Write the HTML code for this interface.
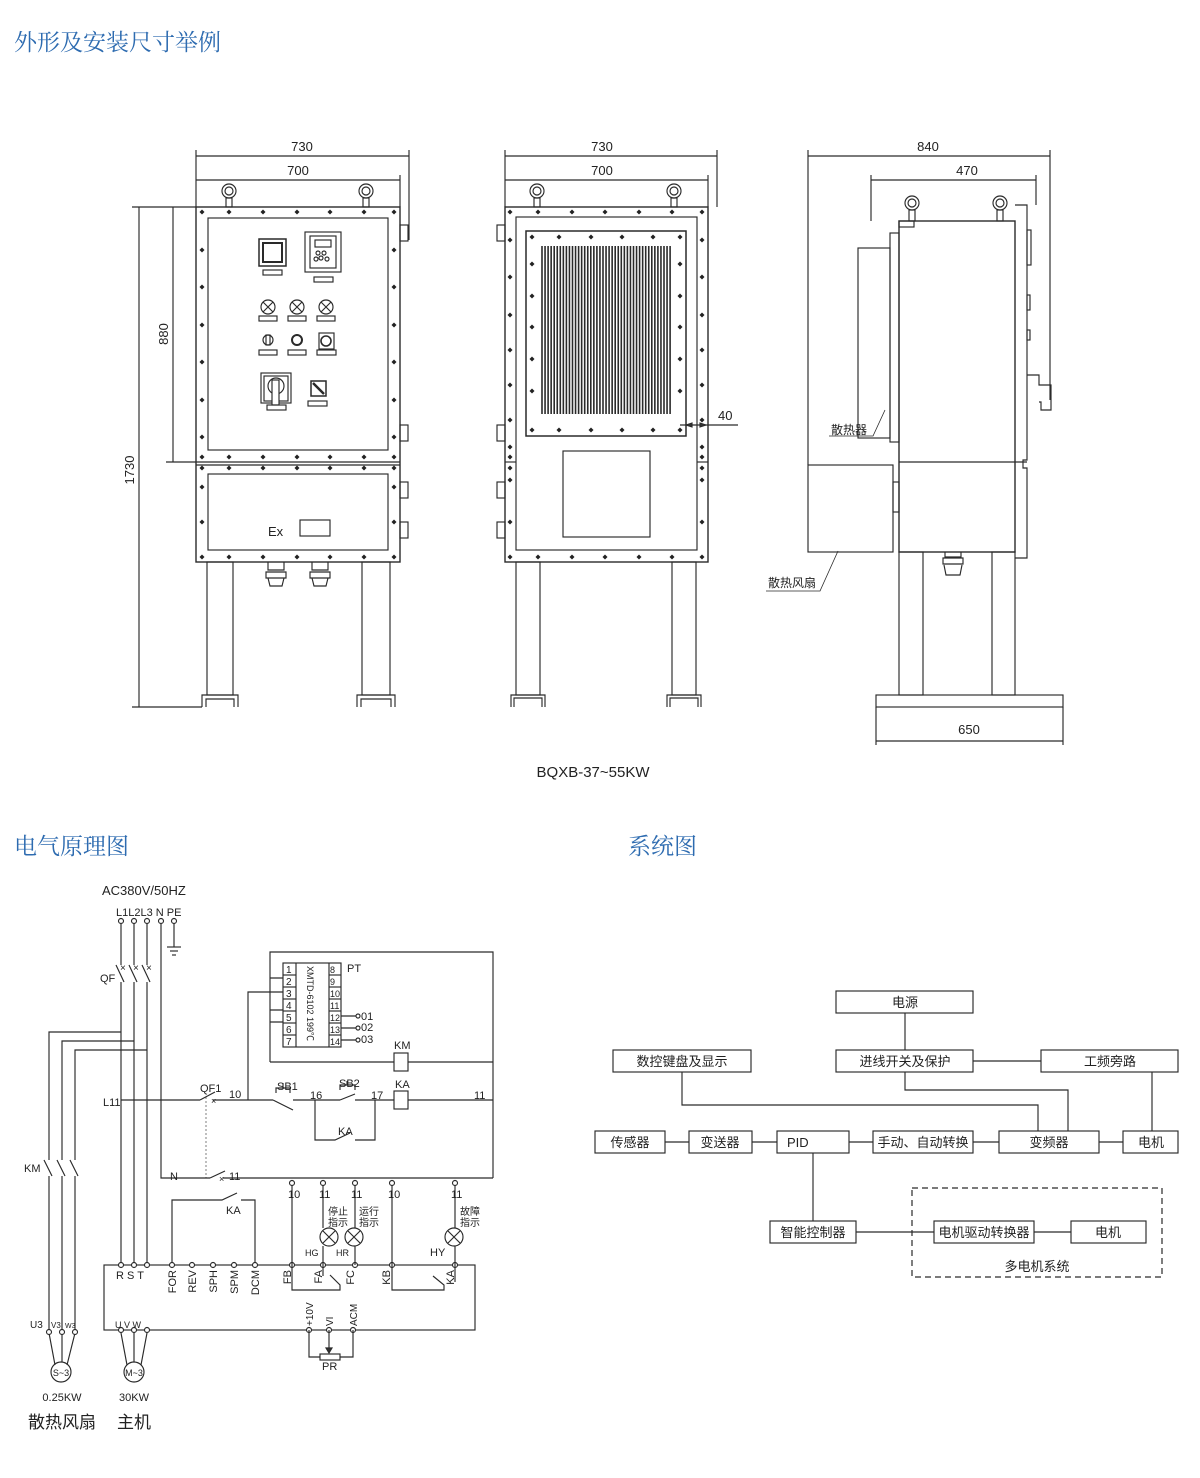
<!DOCTYPE html>
<html><head><meta charset="utf-8">
<style>
html,body{margin:0;padding:0;background:#fff;width:1200px;height:1478px;overflow:hidden}
svg{display:block}
text{font-family:"Liberation Sans","Noto Sans CJK SC",sans-serif;fill:#222}
.h{font-family:"Liberation Serif","Noto Serif CJK SC",serif;fill:#2d6bb0;font-size:23px}
.cn{font-family:"Liberation Sans","Noto Sans CJK SC",sans-serif}
</style></head><body>
<svg id="s" width="1200" height="1478" viewBox="0 0 1200 1478" xmlns="http://www.w3.org/2000/svg" fill="none" stroke="#2a2a2a" stroke-width="1.15">
<text class="h" x="14" y="50" stroke="none">外形及安装尺寸举例</text>
<text class="h" x="14" y="854" stroke="none">电气原理图</text>
<text class="h" x="628" y="854" stroke="none">系统图</text>

<!-- FRONT VIEW 1 -->
<g>
<line x1="196" y1="150" x2="196" y2="207"/><line x1="409" y1="150" x2="409" y2="240"/><line x1="400" y1="175" x2="400" y2="207"/>
<line x1="196" y1="156" x2="409" y2="156"/><line x1="196" y1="180" x2="400" y2="180"/>
<text x="302" y="151" font-size="13" stroke="none" text-anchor="middle">730</text>
<text x="298" y="175" font-size="13" stroke="none" text-anchor="middle">700</text>
<line x1="132" y1="207" x2="196" y2="207"/><line x1="132" y1="707" x2="202" y2="707"/><line x1="166" y1="462" x2="196" y2="462"/>
<line x1="139" y1="207" x2="139" y2="707"/><line x1="173" y1="207" x2="173" y2="462"/>
<text x="0" y="0" font-size="13" stroke="none" transform="translate(134,470) rotate(-90)" text-anchor="middle">1730</text>
<text x="0" y="0" font-size="13" stroke="none" transform="translate(168,334) rotate(-90)" text-anchor="middle">880</text>
<circle cx="229" cy="191" r="7"/><circle cx="229" cy="191" r="4"/><rect x="226" y="198" width="6" height="9"/>
<circle cx="366" cy="191" r="7"/><circle cx="366" cy="191" r="4"/><rect x="363" y="198" width="6" height="9"/>
<rect x="196" y="207" width="204" height="355" stroke-width="1.4"/>
<line x1="196" y1="462" x2="400" y2="462"/><line x1="196" y1="465" x2="400" y2="465"/>
<rect x="208" y="218" width="180" height="232"/>
<rect x="208" y="474" width="180" height="76"/>
<rect x="400" y="225" width="8" height="16"/><rect x="400" y="425" width="8" height="16"/><rect x="400" y="482" width="8" height="16"/><rect x="400" y="522" width="8" height="16"/>
<rect x="259" y="239" width="27" height="27" stroke-width="1.5"/><rect x="263" y="243" width="19" height="19" stroke-width="2"/>
<rect x="263" y="270" width="19" height="5"/>
<rect x="305" y="232" width="36" height="40"/><rect x="310" y="236" width="26" height="32"/><rect x="315" y="240" width="16" height="7"/>
<circle cx="318" cy="253" r="2"/><circle cx="324" cy="253" r="2"/><circle cx="321" cy="258" r="2"/><circle cx="316" cy="259" r="2"/><circle cx="327" cy="259" r="2"/>
<rect x="314" y="277" width="19" height="5"/>
<g id="lamps"></g>
<rect x="261" y="373" width="30" height="30"/><rect x="264" y="376" width="24" height="25"/><circle cx="276" cy="386" r="8"/><rect x="272" y="380" width="7" height="25" fill="#fff"/>
<rect x="267" y="405" width="19" height="5"/>
<rect x="311" y="381" width="15" height="15" stroke-width="1.5"/><line x1="313" y1="383" x2="324" y2="394" stroke-width="2.5"/>
<rect x="308" y="401" width="19" height="5"/>
<text x="268" y="536" font-size="13" stroke="none">Ex</text>
<rect x="300" y="520" width="30" height="16"/>
<rect x="207" y="562" width="26" height="133"/><rect x="362" y="562" width="28" height="133"/>
<path d="M202 707V695H238V707M206 707V699H234V707"/><path d="M357 707V695H395V707M361 707V699H391V707"/>
<path d="M268 562v8h16v-8M266 572h20v6h-20zM268 578l2 8h12l2-8"/>
<path d="M312 562v8h16v-8M310 572h20v6h-20zM312 578l2 8h12l2-8"/>
</g>

<!-- FRONT VIEW 2 -->
<g>
<line x1="505" y1="150" x2="505" y2="207"/><line x1="717" y1="150" x2="717" y2="207"/><line x1="708" y1="175" x2="708" y2="207"/>
<line x1="505" y1="156" x2="717" y2="156"/><line x1="505" y1="180" x2="708" y2="180"/>
<text x="602" y="151" font-size="13" stroke="none" text-anchor="middle">730</text>
<text x="602" y="175" font-size="13" stroke="none" text-anchor="middle">700</text>
<circle cx="537" cy="191" r="7"/><circle cx="537" cy="191" r="4"/><rect x="534" y="198" width="6" height="9"/>
<circle cx="674" cy="191" r="7"/><circle cx="674" cy="191" r="4"/><rect x="671" y="198" width="6" height="9"/>
<rect x="505" y="207" width="203" height="355" stroke-width="1.4"/>
<line x1="505" y1="462" x2="516" y2="462"/><line x1="697" y1="462" x2="708" y2="462"/>
<rect x="516" y="217" width="181" height="333"/>
<rect x="526" y="231" width="160" height="205" stroke-width="1.5"/>
<g id="grille"></g>
<rect x="563" y="451" width="87" height="86"/>
<rect x="497" y="225" width="8" height="16"/><rect x="497" y="425" width="8" height="16"/><rect x="497" y="482" width="8" height="16"/><rect x="497" y="522" width="8" height="16"/>
<line x1="680" y1="425" x2="738" y2="425"/>
<path d="M686 425l6-2v4z M706 425l-6-2v4z" fill="#333"/>
<text x="718" y="420" font-size="13" stroke="none">40</text>
<rect x="516" y="562" width="24" height="133"/><rect x="672" y="562" width="24" height="133"/>
<path d="M511 707V695H545V707M514 707V698H542V707"/><path d="M667 707V695H701V707M670 707V698H698V707"/>
</g>

<!-- SIDE VIEW -->
<g>
<line x1="808" y1="150" x2="808" y2="465"/><line x1="1050" y1="150" x2="1050" y2="400"/>
<line x1="871" y1="175" x2="871" y2="221"/><line x1="1036" y1="175" x2="1036" y2="205"/>
<line x1="808" y1="156" x2="1050" y2="156"/><line x1="871" y1="180" x2="1036" y2="180"/>
<text x="928" y="151" font-size="13" stroke="none" text-anchor="middle">840</text>
<text x="967" y="175" font-size="13" stroke="none" text-anchor="middle">470</text>
<circle cx="912" cy="203" r="7"/><circle cx="912" cy="203" r="4"/><rect x="909" y="210" width="6" height="11"/>
<circle cx="1000" cy="203" r="7"/><circle cx="1000" cy="203" r="4"/><rect x="997" y="210" width="6" height="11"/>
<rect x="899" y="221" width="116" height="331" stroke-width="1.4"/>
<line x1="899" y1="462" x2="1027" y2="462"/>
<rect x="899" y="221" width="15" height="6"/>
<path d="M1015 205h12v255h-4v8h4v90h-12"/>
<rect x="1027" y="230" width="4" height="35"/><rect x="1027" y="295" width="3" height="15"/><rect x="1027" y="330" width="3" height="10"/>
<path d="M1027 375h12v10h12v25h-10v-8h-2"/>
<rect x="890" y="233" width="9" height="209"/>
<rect x="858" y="248" width="32" height="190"/>
<rect x="808" y="465" width="85" height="87"/>
<rect x="893" y="482" width="6" height="30"/>
<rect x="899" y="552" width="24" height="143"/><rect x="992" y="552" width="23" height="143"/>
<path d="M945 552v5h16v-5M943 558h20v6h-20zM944 565l2 10h14l2-10"/>
<rect x="876" y="695" width="187" height="12"/>
<line x1="876" y1="707" x2="876" y2="745"/><line x1="1063" y1="707" x2="1063" y2="745"/>
<line x1="876" y1="741" x2="1063" y2="741"/>
<text x="969" y="734" font-size="13" stroke="none" text-anchor="middle">650</text>
<path d="M829 436h44l12-26" stroke-width=".8"/>
<text x="831" y="434" font-size="12" stroke="none" class="cn">散热器</text>
<path d="M766 591h54l18-40" stroke-width=".8"/>
<text x="768" y="587" font-size="12" stroke="none" class="cn">散热风扇</text>
</g>
<text x="593" y="777" font-size="15" stroke="none" text-anchor="middle">BQXB-37~55KW</text>

<!-- SCHEMATIC -->
<g font-size="11">
<text x="102" y="895" font-size="13" stroke="none">AC380V/50HZ</text>
<text x="116" y="916" stroke="none">L1L2L3 N PE</text>
<g id="term"></g>
<line x1="174" y1="924" x2="174" y2="947"/><line x1="167" y1="947" x2="181" y2="947"/><line x1="170" y1="951" x2="178" y2="951"/><line x1="172" y1="955" x2="176" y2="955"/>
<path d="M121 924V965M116 965L124 982M121 982V1265"/>
<path d="M134 924V965M129 965L137 982M134 982V1265"/>
<path d="M147 924V965M142 965L150 982M147 982V1265"/>
<text x="120" y="971" stroke="none" font-size="10">×</text><text x="133" y="971" stroke="none" font-size="10">×</text><text x="146" y="971" stroke="none" font-size="10">×</text>
<text x="100" y="982" stroke="none">QF</text>
<path d="M161 924V1178H210"/>
<path d="M121 1032H49V1160M44 1160L52 1176M49 1176V1330"/>
<path d="M134 1041H62V1160M57 1160L65 1176M62 1176V1330"/>
<path d="M147 1050H75V1160M70 1160L78 1176M75 1176V1330"/>
<text x="24" y="1172" stroke="none">KM</text>
<text x="30" y="1328" stroke="none" font-size="10">U3</text><text x="51" y="1328" stroke="none" font-size="8">V3</text><text x="65" y="1328" stroke="none" font-size="7">W3</text>
<path d="M49 1333L55 1365M62 1333V1362M75 1333L67 1365"/>
<circle cx="61" cy="1372" r="10"/><text x="61" y="1376" stroke="none" font-size="9" text-anchor="middle">S~3</text>
<path d="M121 1333L127 1365M134 1333V1362M147 1333L141 1365"/>
<circle cx="134" cy="1372" r="10"/><text x="134" y="1376" stroke="none" font-size="9" text-anchor="middle">M~3</text>
<text x="62" y="1401" stroke="none" text-anchor="middle">0.25KW</text>
<text x="134" y="1401" stroke="none" text-anchor="middle">30KW</text>
<text x="62" y="1428" stroke="none" font-size="17" text-anchor="middle" class="cn">散热风扇</text>
<text x="134" y="1428" stroke="none" font-size="17" text-anchor="middle" class="cn">主机</text>
<text x="103" y="1106" stroke="none">L11</text>
<path d="M121 1100H200M200 1100L215 1092M213 1100H248M248 1100V992H283"/>
<text x="211" y="1104" stroke="none" font-size="9">×</text>
<path d="M210 1178L225 1171M223 1178H493"/>
<text x="219" y="1182" stroke="none" font-size="9">×</text>
<line x1="206" y1="1097" x2="206" y2="1178" stroke-dasharray="2 2" stroke-width=".6"/>
<text x="200" y="1092" stroke="none">QF1</text>
<text x="229" y="1098" stroke="none">10</text>
<text x="170" y="1180" stroke="none">N</text>
<text x="229" y="1180" stroke="none">11</text>
<path d="M248 1100H273M273 1100L293 1110M293 1100H340M340 1100L355 1094M355 1100H394M408 1100H493"/>
<path d="M276 1093V1088H290V1093M283 1088V1083"/>
<text x="277" y="1090" stroke="none">SB1</text>
<text x="310" y="1099" stroke="none">16</text>
<path d="M340 1090V1085H355V1090M347 1085V1081"/>
<text x="339" y="1087" stroke="none">SB2</text>
<text x="371" y="1099" stroke="none">17</text>
<rect x="394" y="1091" width="14" height="18"/>
<text x="395" y="1088" stroke="none">KA</text>
<text x="474" y="1099" stroke="none">11</text>
<path d="M315 1100V1140H335L350 1133M355 1140H375V1100"/>
<text x="338" y="1135" stroke="none">KA</text>
<path d="M270 1062V952H493V1178"/>
<path d="M270 978H283M270 1010H283M270 1022H283"/>
<path d="M270 1062H394M408 1062H493"/>
<rect x="394" y="1053" width="14" height="18"/>
<text x="394" y="1049" stroke="none">KM</text>
<rect x="283" y="963" width="58" height="84"/>
<line x1="296" y1="963" x2="296" y2="1047"/><line x1="329" y1="963" x2="329" y2="1047"/>
<g id="pt"></g>
<text x="0" y="0" stroke="none" font-size="9" transform="translate(307,966) rotate(90)">XMTD-6102 199℃</text>
<text x="347" y="972" stroke="none">PT</text>
<path d="M341 1016H356M341 1028H356M341 1040H356"/>
<circle cx="358" cy="1016" r="2"/><circle cx="358" cy="1028" r="2"/><circle cx="358" cy="1040" r="2"/>
<text x="361" y="1020" stroke="none">01</text><text x="361" y="1031" stroke="none">02</text><text x="361" y="1043" stroke="none">03</text>
<rect x="104" y="1265" width="371" height="65"/>
<path d="M172 1265V1200H222L237 1193M241 1200H255V1265"/>
<text x="226" y="1214" stroke="none">KA</text>
<g id="inv"></g>
<path d="M292 1185V1265M323 1185V1228M323 1246V1265M355 1185V1228M355 1246V1265M392 1185V1265M455 1185V1228M455 1246V1265"/>
<path d="M292 1265V1290H340V1285L330 1275M323 1265V1276"/>
<path d="M392 1265V1290H444V1285L433 1276M455 1265V1282"/>
<circle cx="329" cy="1237" r="9"/><circle cx="354" cy="1237" r="9"/><circle cx="454" cy="1237" r="9"/>
<path d="M323 1231l12 12M335 1231l-12 12M348 1231l12 12M360 1231l-12 12M448 1231l12 12M460 1231l-12 12"/>
<text x="288" y="1198" stroke="none">10</text><text x="319" y="1198" stroke="none">11</text><text x="351" y="1198" stroke="none">11</text><text x="388" y="1198" stroke="none">10</text><text x="451" y="1198" stroke="none">11</text>
<text x="328" y="1215" stroke="none" font-size="10" class="cn">停止</text><text x="328" y="1226" stroke="none" font-size="10" class="cn">指示</text>
<text x="359" y="1215" stroke="none" font-size="10" class="cn">运行</text><text x="359" y="1226" stroke="none" font-size="10" class="cn">指示</text>
<text x="460" y="1215" stroke="none" font-size="10" class="cn">故障</text><text x="460" y="1226" stroke="none" font-size="10" class="cn">指示</text>
<text x="305" y="1256" stroke="none" font-size="9">HG</text><text x="336" y="1256" stroke="none" font-size="9">HR</text><text x="430" y="1256" stroke="none" font-size="11">HY</text>
<text x="116" y="1279" stroke="none">R S T</text>
<text x="115" y="1328" stroke="none" font-size="9">U  V  W</text>
<path d="M309 1330V1357H320M340 1357H353V1330M329 1330V1350"/>
<rect x="320" y="1354" width="20" height="6"/>
<path d="M326 1348l3 5l3-5z" fill="#333"/>
<text x="322" y="1370" stroke="none">PR</text>
</g>

<!-- SYSTEM DIAGRAM -->
<g font-size="13">
<path d="M905 1013V1050M973 1061H1041M1152 1072V1131M905 1072V1090H1068V1131M682 1072V1105H1038V1131M665 1142H689M752 1142H777M849 1142H873M973 1142H999M1099 1142H1123M813 1153V1221M856 1232H934M1034 1232H1071"/>
<rect x="836" y="991" width="137" height="22" fill="#fff"/><text x="905" y="1007" stroke="none" text-anchor="middle" class="cn">电源</text>
<rect x="613" y="1050" width="138" height="22" fill="#fff"/><text x="682" y="1066" stroke="none" text-anchor="middle" class="cn">数控键盘及显示</text>
<rect x="836" y="1050" width="137" height="22" fill="#fff"/><text x="905" y="1066" stroke="none" text-anchor="middle" class="cn">进线开关及保护</text>
<rect x="1041" y="1050" width="137" height="22" fill="#fff"/><text x="1110" y="1066" stroke="none" text-anchor="middle" class="cn">工频旁路</text>
<rect x="595" y="1131" width="70" height="22" fill="#fff"/><text x="630" y="1147" stroke="none" text-anchor="middle" class="cn">传感器</text>
<rect x="689" y="1131" width="63" height="22" fill="#fff"/><text x="720" y="1147" stroke="none" text-anchor="middle" class="cn">变送器</text>
<rect x="777" y="1131" width="72" height="22" fill="#fff"/><text x="787" y="1147" stroke="none">PID</text>
<rect x="873" y="1131" width="100" height="22" fill="#fff"/><text x="923" y="1147" stroke="none" text-anchor="middle" class="cn">手动、自动转换</text>
<rect x="999" y="1131" width="100" height="22" fill="#fff"/><text x="1049" y="1147" stroke="none" text-anchor="middle" class="cn">变频器</text>
<rect x="1123" y="1131" width="55" height="22" fill="#fff"/><text x="1151" y="1147" stroke="none" text-anchor="middle" class="cn">电机</text>
<rect x="912" y="1188" width="250" height="89" stroke-dasharray="6 4" stroke-width="1.2"/>
<rect x="770" y="1221" width="86" height="22" fill="#fff"/><text x="813" y="1237" stroke="none" text-anchor="middle" class="cn">智能控制器</text>
<rect x="934" y="1221" width="100" height="22" fill="#fff"/><text x="984" y="1237" stroke="none" text-anchor="middle" class="cn">电机驱动转换器</text>
<rect x="1071" y="1221" width="75" height="22" fill="#fff"/><text x="1108" y="1237" stroke="none" text-anchor="middle" class="cn">电机</text>
<text x="1037" y="1271" stroke="none" text-anchor="middle" class="cn">多电机系统</text>
</g>
</svg>
<script>
var NS="http://www.w3.org/2000/svg",s=document.getElementById("s");
function el(p,t,a){var e=document.createElementNS(NS,t);for(var k in a)e.setAttribute(k,a[k]);p.appendChild(e);return e;}
function bolt(x,y){el(s,"path",{d:"M"+x+" "+(y-2.5)+"l2.5 2.5l-2.5 2.5l-2.5-2.5z",fill:"#222",stroke:"none"});}
[202,229,263,297,330,364,394].forEach(function(x){bolt(x,212);bolt(x,457);bolt(x,468);bolt(x,557);});
[250,287,325,362,400,437].forEach(function(y){bolt(202,y);bolt(394,y);});
[487,522].forEach(function(y){bolt(202,y);bolt(394,y);});
[510,538,572,605,639,672,702].forEach(function(x){bolt(x,212);bolt(x,557);});
[240,277,315,350,385,420,447,457,468,480,522].forEach(function(y){bolt(510,y);bolt(702,y);});
[532,559,591,622,653,680].forEach(function(x){bolt(x,237);bolt(x,430);});
[264,296,327,359,391].forEach(function(y){bolt(532,y);bolt(680,y);});
var g=document.getElementById("grille");
for(var i=0;i<43;i++){var x=542+i*3.05;el(g,"line",{x1:x,y1:246,x2:x,y2:414,"stroke-width":"1.6"});}
var L=document.getElementById("lamps");
[268,297,326].forEach(function(x){el(L,"circle",{cx:x,cy:307,r:7});el(L,"path",{d:"M"+(x-5)+" 302l10 10M"+(x+5)+" 302l-10 10"});el(L,"rect",{x:x-9,y:316,width:18,height:5});});
el(L,"circle",{cx:268,cy:340,r:5});el(L,"rect",{x:266,y:335,width:4,height:10});el(L,"rect",{x:259,y:350,width:18,height:5});
el(L,"circle",{cx:297,cy:340,r:5,"stroke-width":"2"});el(L,"rect",{x:288,y:350,width:18,height:5});
el(L,"rect",{x:319,y:333,width:15,height:16});el(L,"circle",{cx:326,cy:341,r:5,"stroke-width":"1.6"});el(L,"rect",{x:317,y:350,width:19,height:5});
var T=document.getElementById("term");
[121,134,147,161,174].forEach(function(x){el(T,"circle",{cx:x,cy:921,r:2.5,fill:"#fff"});});
var P=document.getElementById("pt");
for(var r=0;r<7;r++){var y=963+r*12;if(r>0){el(P,"line",{x1:283,y1:y,x2:296,y2:y});el(P,"line",{x1:329,y1:y,x2:341,y2:y});}
var t=el(P,"text",{x:286,y:y+10,stroke:"none","font-size":"10"});t.textContent=r+1;
var t2=el(P,"text",{x:330,y:y+10,stroke:"none","font-size":"9"});t2.textContent=r+8;}
var I=document.getElementById("inv");
[121,134,147,172,192,213,234,255,292,323,355,392,455].forEach(function(x){el(I,"circle",{cx:x,cy:1265,r:2.5,fill:"#fff"});});
[121,134,147,309,329,353].forEach(function(x){el(I,"circle",{cx:x,cy:1330,r:2.5,fill:"#fff"});});
[292,323,355,392,455].forEach(function(x){el(I,"circle",{cx:x,cy:1183,r:2.5,fill:"#fff"});});
[49,62,75].forEach(function(x){el(I,"circle",{cx:x,cy:1332,r:2.5,fill:"#fff"});});
function vt(x,y,s,fs){var t=el(I,"text",{x:0,y:0,stroke:"none","font-size":fs||11,transform:"translate("+x+","+y+") rotate(-90)","text-anchor":"end"});t.textContent=s;}
vt(176,1270,"FOR");vt(196,1270,"REV");vt(217,1270,"SPH");vt(238,1270,"SPM");vt(259,1270,"DCM");
vt(291,1270,"FB");vt(322,1270,"FA");vt(354,1270,"FC");vt(390,1270,"KB");vt(454,1270,"KA");
function vt2(x,y,s){var t=el(I,"text",{x:0,y:0,stroke:"none","font-size":10,transform:"translate("+x+","+y+") rotate(-90)"});t.textContent=s;}
vt2(313,1326,"+10V");vt2(333,1326,"VI");vt2(357,1326,"ACM");
</script>
</body></html>
